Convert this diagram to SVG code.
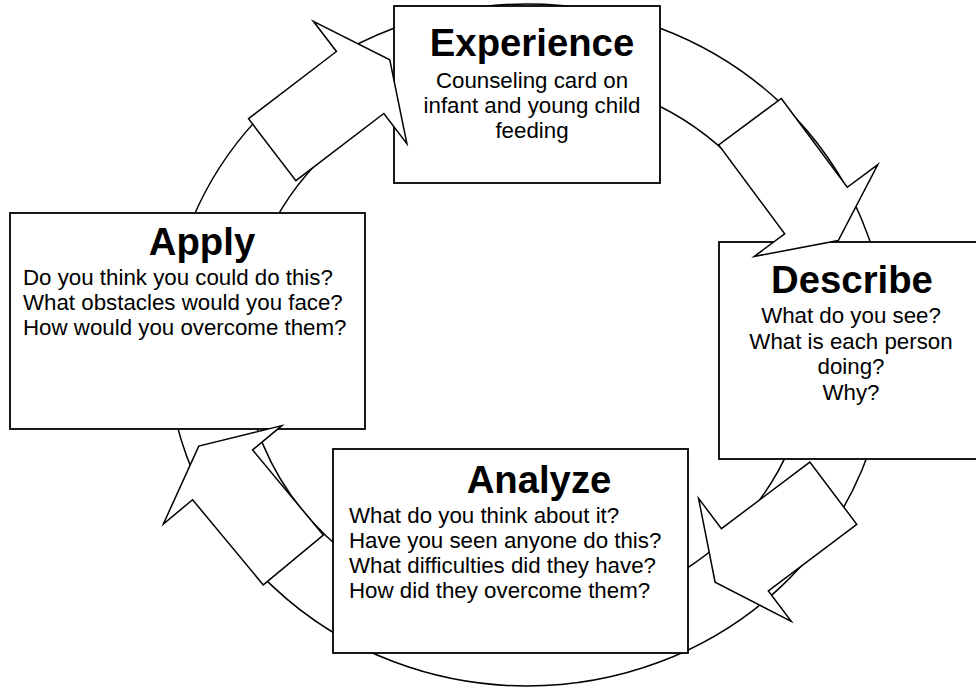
<svg xmlns="http://www.w3.org/2000/svg" width="976" height="688" viewBox="0 0 976 688">
<style>
  .ring { fill: none; stroke: #000; stroke-width: 1.5; }
  .box { fill: #fff; stroke: #000; stroke-width: 1.8; }
  .arrow { fill: #fff; stroke: #000; stroke-width: 1.5; stroke-linejoin: miter; stroke-miterlimit: 10; }
  .title { font-family: "Liberation Sans", Arial, sans-serif; font-weight: bold; font-size: 38.3px; fill: #000; }
  .body { font-family: "Liberation Sans", Arial, sans-serif; font-size: 22.3px; fill: #000; }
  .c { text-anchor: middle; }
</style>
<defs>
  <polygon id="blockArrow" points="0,-39 110.7,-39 110.7,-77 148,0 110.7,77 110.7,39 0,39"/>
</defs>
<rect width="976" height="688" fill="#fff"/>
<g id="cycle-ring">
  <ellipse class="ring" cx="527" cy="345" rx="360" ry="341"/>
  <ellipse class="ring" cx="527" cy="345" rx="284" ry="270"/>
</g>
<g id="node-experience">
  <rect class="box" x="394" y="6" width="266" height="177"/>
  <text class="title c" x="532" y="56">Experience</text>
  <text class="body c" x="532" y="88">Counseling card on</text>
  <text class="body c" x="532" y="113">infant and young child</text>
  <text class="body c" x="532" y="138">feeding</text>
</g>
<g id="node-describe">
  <rect class="box" x="719" y="242" width="266" height="217"/>
  <text class="title c" x="852" y="293">Describe</text>
  <text class="body c" x="851" y="323">What do you see?</text>
  <text class="body c" x="851" y="348.5">What is each person</text>
  <text class="body c" x="851" y="374">doing?</text>
  <text class="body c" x="851" y="399.5">Why?</text>
</g>
<g id="node-analyze">
  <rect class="box" x="333" y="449" width="355" height="204"/>
  <text class="title c" x="539" y="493">Analyze</text>
  <text class="body" x="349" y="523">What do you think about it?</text>
  <text class="body" x="349" y="548">Have you seen anyone do this?</text>
  <text class="body" x="349" y="573">What difficulties did they have?</text>
  <text class="body" x="349" y="598">How did they overcome them?</text>
</g>
<g id="node-apply">
  <rect class="box" x="10" y="213" width="355" height="216"/>
  <text class="title c" x="202" y="255">Apply</text>
  <text class="body" x="23" y="285">Do you think you could do this?</text>
  <text class="body" x="23" y="310">What obstacles would you face?</text>
  <text class="body" x="23" y="335">How would you overcome them?</text>
</g>
<g id="connectors">
  <use class="arrow" href="#blockArrow" transform="translate(272.2,149.7) rotate(-37.4)"/>
  <use class="arrow" href="#blockArrow" transform="translate(750,121.7) rotate(53.4)"/>
  <use class="arrow" href="#blockArrow" transform="translate(833.3,493.2) rotate(143)"/>
  <use class="arrow" href="#blockArrow" transform="translate(293.3,560) rotate(230.3)"/>
</g>
</svg>
